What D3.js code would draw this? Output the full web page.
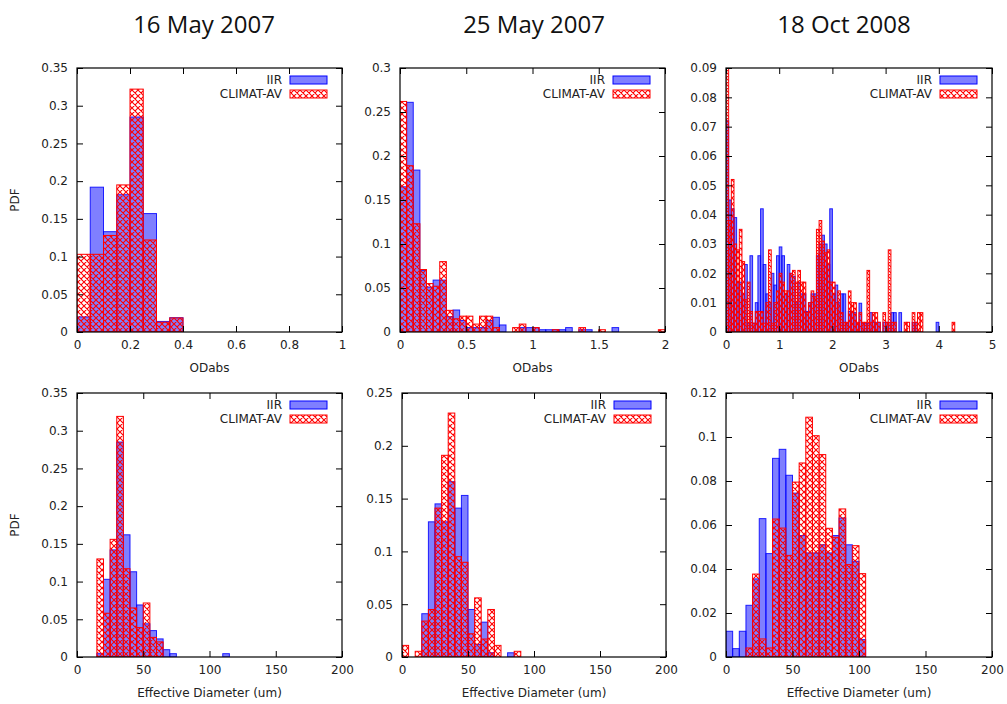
<!DOCTYPE html>
<html lang='en'>
<head>
  <meta charset='UTF-8'>
  <title>PDF histograms</title>
  <style>
    * { margin: 0; padding: 0; }
    body { background: #fff; }
    svg text { font-family: 'DejaVu Sans', sans-serif; font-size: 12px; fill: #222; }
    svg text.title { font-family: 'Open Sans', sans-serif; font-size: 24px; fill: #111; }
  </style>
</head>
<body>
<div id='chart'></div>
<script src='https://cdn.jsdelivr.net/npm/d3@7/dist/d3.min.js'></script>
<script>
  // data: histogram values per bin (bins start at 0)
  const titles = ['16 May 2007', '25 May 2007', '18 Oct 2008']
  const seriesNames = ['IIR', 'CLIMAT-AV']

  // top row: ODabs
  const od1Iir = [0.02, 0.192, 0.133, 0.182, 0.285, 0.157, 0.014, 0.019]
  const od1Climat = [0.103, 0.103, 0.128, 0.195, 0.322, 0.122, 0.013, 0.0186]

  const od2Iir = [0.165, 0.261, 0.184, 0.070, 0.051, 0.059, 0.059, 0.0174, 0.025, 0.013,
    0.005, 0.005, 0.005, 0.013, 0.0167, 0.008, 0, 0, 0.005, 0.005,
    0.005, 0.0026, 0.0026, 0.0026, 0.0026, 0.005, 0, 0.0026, 0.0026, 0,
    0, 0, 0.005, 0, 0, 0, 0, 0, 0, 0]
  const od2Climat = [0.262, 0.189, 0.123, 0.071, 0.055, 0.052, 0.080, 0.0246, 0.015, 0.018,
    0.018, 0.009, 0.018, 0.018, 0.005, 0, 0, 0.005, 0.009, 0,
    0.005, 0, 0, 0.0026, 0, 0, 0, 0.005, 0, 0,
    0.0026, 0, 0, 0, 0, 0, 0, 0, 0, 0.0026]

  const od3Iir = [0.072, 0.045, 0.042, 0.039, 0.017, 0.017, 0.013, 0.023, 0.003, 0.026,
    0.003, 0.010, 0.026, 0.042, 0.023, 0.013, 0.010, 0.020, 0.016, 0.026,
    0.029, 0.026, 0.013, 0.023, 0.020, 0.019, 0.010, 0.017, 0.013, 0.013,
    0.007, 0.010, 0.013, 0.013, 0.026, 0.030, 0.033, 0.030, 0.023, 0.042,
    0.013, 0.016, 0.010, 0.013, 0.013, 0.003, 0.007, 0.007, 0.0066, 0.003,
    0.0098, 0.003, 0.003, 0.003, 0.0066, 0.0033, 0.0033, 0.0033, 0, 0.0033,
    0.0033, 0.0033, 0.0066, 0.0066, 0, 0.0066, 0, 0, 0, 0,
    0.0033, 0.0033, 0, 0, 0, 0, 0, 0, 0, 0.0033]
  const od3Climat = [0.09, 0.038, 0.052, 0.030, 0.028, 0.035, 0.024, 0.011, 0.017, 0.007,
    0.003, 0.007, 0.007, 0.007, 0.003, 0.010, 0.028, 0.003, 0.010, 0.014,
    0.020, 0.017, 0.014, 0.014, 0.020, 0.021, 0.017, 0.021, 0.017, 0.017,
    0.0066, 0.010, 0.014, 0.012, 0.035, 0.038, 0.031, 0.027, 0.028, 0.017,
    0.017, 0.010, 0.014, 0.0066, 0.0033, 0.0033, 0.014, 0.010, 0.010, 0.0033,
    0.0066, 0.0033, 0.0033, 0.021, 0.0033, 0.0066, 0.0066, 0.0033, 0, 0.0066,
    0.0033, 0.028, 0.0033, 0.0033, 0, 0, 0, 0.0033, 0.0033, 0,
    0.0066, 0.0033, 0.0066, 0.0066, 0, 0, 0, 0, 0, 0,
    0, 0, 0, 0, 0, 0.0033]

  // bottom row: effective diameter, 5 um bins
  const de1Iir = [0, 0, 0, 0.0044, 0.103, 0.142, 0.285, 0.162, 0.113, 0.069,
    0.044, 0.035, 0.024, 0.0097, 0.0044, 0, 0, 0, 0, 0,
    0, 0, 0.0044]
  const de1Climat = [0, 0, 0, 0.13, 0.058, 0.156, 0.319, 0.117, 0.065, 0.039,
    0.0716, 0.026, 0.020]

  const de2Iir = [0, 0, 0, 0.041, 0.128, 0.145, 0.128, 0.166, 0.141, 0.153,
    0.045, 0.012, 0.033, 0.004, 0, 0, 0.004, 0]
  const de2Climat = [0.011, 0, 0.0054, 0.034, 0.045, 0.141, 0.191, 0.231, 0.095, 0.0897,
    0.022, 0.056, 0.017, 0.045, 0.011, 0, 0, 0.0054]

  const de3Iir = [0.0117, 0.0038, 0.0117, 0.0235, 0.0355, 0.0629, 0.047, 0.0903, 0.0944, 0.0826,
    0.0745, 0.0552, 0.0473, 0.0473, 0.051, 0.0473, 0.0552, 0.0632, 0.051, 0.0435, 0.0079]
  const de3Climat = [0, 0, 0, 0.0041, 0.0377, 0.0082, 0.0041, 0.0627, 0.0586, 0.0462,
    0.0795, 0.0882, 0.109, 0.1006, 0.092, 0.0585, 0.0544, 0.0673, 0.042, 0.0506, 0.0379]

  const panels = [
    {l: 77, r: 342, t: 68, b: 332, xMax: 1, xStep: 0.2, yMax: 0.35, yStep: 0.05, bin: 0.05, iir: od1Iir, climat: od1Climat, xLabel: 'ODabs', yLabel: true},
    {l: 400, r: 665, t: 68, b: 332, xMax: 2, xStep: 0.5, yMax: 0.3, yStep: 0.05, bin: 0.05, iir: od2Iir, climat: od2Climat, xLabel: 'ODabs'},
    {l: 726, r: 992, t: 68, b: 332, xMax: 5, xStep: 1, yMax: 0.09, yStep: 0.01, bin: 0.05, iir: od3Iir, climat: od3Climat, xLabel: 'ODabs'},
    {l: 77, r: 342, t: 393, b: 657, xMax: 200, xStep: 50, yMax: 0.35, yStep: 0.05, bin: 5, iir: de1Iir, climat: de1Climat, xLabel: 'Effective Diameter (um)', yLabel: true},
    {l: 402, r: 666, t: 393, b: 657, xMax: 200, xStep: 50, yMax: 0.25, yStep: 0.05, bin: 5, iir: de2Iir, climat: de2Climat, xLabel: 'Effective Diameter (um)'},
    {l: 726, r: 992, t: 393, b: 657, xMax: 200, xStep: 50, yMax: 0.12, yStep: 0.02, bin: 5, iir: de3Iir, climat: de3Climat, xLabel: 'Effective Diameter (um)'}
  ]
  const titleX = [204, 534, 844]

  let svg = d3.select('#chart')
  .append('svg')
  .attr('width', 1007)
  .attr('height', 704)

  svg.append('rect').attr('width', 1007).attr('height', 704).attr('fill', '#fff')

  // crosshatch pattern
  let defs = svg.append('defs')
  let pat = defs.append('pattern')
  .attr('id', 'hatch')
  .attr('patternUnits', 'userSpaceOnUse')
  .attr('width', 6).attr('height', 6)
  pat.append('path')
  .attr('d', 'M0,0L6,6M6,0L0,6M-1,5L1,7M5,-1L7,1M-1,1L1,-1M5,7L7,5')
  .attr('stroke', '#ff0000')
  .attr('stroke-width', 1.1)
  .attr('fill', 'none')

  // titles
  titles.forEach((t, i) => {
    svg.append('text').attr('class', 'title')
    .attr('x', titleX[i]).attr('y', 33)
    .attr('text-anchor', 'middle')
    .text(t)
  })

  const fmt = d => String(+d.toFixed(3))

  panels.forEach((p, pi) => {
    let g = svg.append('g')
    let x = d3.scaleLinear().domain([0, p.xMax]).range([p.l, p.r])
    let y = d3.scaleLinear().domain([0, p.yMax]).range([p.b, p.t])

    let clipId = 'clip' + pi
    defs.append('clipPath').attr('id', clipId)
    .append('rect').attr('x', p.l).attr('y', p.t).attr('width', p.r - p.l).attr('height', p.b - p.t)

    let bars = g.append('g').attr('clip-path', 'url(#' + clipId + ')')
    let iirData = p.iir.map((v, i) => ({i, v})).filter(d => d.v > 0)
    let clData = p.climat.map((v, i) => ({i, v})).filter(d => d.v > 0)

    bars.selectAll('rect.iir').data(iirData).enter().append('rect')
    .attr('x', d => x(d.i * p.bin))
    .attr('width', d => x((d.i + 1) * p.bin) - x(d.i * p.bin))
    .attr('y', d => y(d.v))
    .attr('height', d => y(0) - y(d.v))
    .attr('fill', 'rgba(0,0,255,0.5)')
    .attr('stroke', 'rgba(0,0,255,0.85)')
    .attr('stroke-width', 1)

    bars.selectAll('rect.cl').data(clData).enter().append('rect')
    .attr('x', d => x(d.i * p.bin))
    .attr('width', d => x((d.i + 1) * p.bin) - x(d.i * p.bin))
    .attr('y', d => y(d.v))
    .attr('height', d => y(0) - y(d.v))
    .attr('fill', 'url(#hatch)')
    .attr('stroke', '#ff0000')
    .attr('stroke-width', 1)

    // axes, ticks inward and mirrored
    let xTicks = d3.range(0, p.xMax + p.xStep / 2, p.xStep)
    let yTicks = d3.range(0, p.yMax + p.yStep / 2, p.yStep)
    g.append('g').attr('transform', 'translate(0,' + p.b + ')')
    .call(d3.axisBottom(x).tickValues(xTicks).tickSize(-6).tickPadding(8).tickFormat(fmt))
    g.append('g').attr('transform', 'translate(0,' + p.t + ')')
    .call(d3.axisTop(x).tickValues(xTicks).tickSize(-6).tickFormat(''))
    g.append('g').attr('transform', 'translate(' + p.l + ',0)')
    .call(d3.axisLeft(y).tickValues(yTicks).tickSize(-6).tickPadding(9).tickFormat(fmt))
    g.append('g').attr('transform', 'translate(' + p.r + ',0)')
    .call(d3.axisRight(y).tickValues(yTicks).tickSize(-6).tickFormat(''))
    g.selectAll('.domain').remove()
    g.selectAll('.tick line').attr('stroke', '#000')
    g.selectAll('.tick text').attr('fill', '#222').style('font-size', '12px').style('font-family', 'DejaVu Sans')

    g.append('rect')
    .attr('x', p.l).attr('y', p.t)
    .attr('width', p.r - p.l).attr('height', p.b - p.t)
    .attr('fill', 'none').attr('stroke', '#000').attr('stroke-width', 1.2)

    // axis labels
    g.append('text')
    .attr('x', (p.l + p.r) / 2).attr('y', p.b + 40)
    .attr('text-anchor', 'middle')
    .text(p.xLabel)
    if (p.yLabel) {
      g.append('text')
      .attr('transform', 'translate(19,' + (p.t + p.b) / 2 + ') rotate(-90)')
      .attr('text-anchor', 'middle')
      .text('PDF')
    }

    // legend
    let fills = ['rgba(0,0,255,0.5)', 'url(#hatch)']
    let strokes = ['#0000ff', '#ff0000']
    seriesNames.forEach((name, k) => {
      let cy = p.t + 12 + k * 14
      g.append('text')
      .attr('x', p.r - 60).attr('y', cy + 4)
      .attr('text-anchor', 'end')
      .text(name)
      g.append('rect')
      .attr('x', p.r - 52).attr('y', cy - 4)
      .attr('width', 37).attr('height', 8)
      .attr('fill', fills[k]).attr('stroke', strokes[k]).attr('stroke-width', 1)
    })
  })
</script>
</body>
</html>
